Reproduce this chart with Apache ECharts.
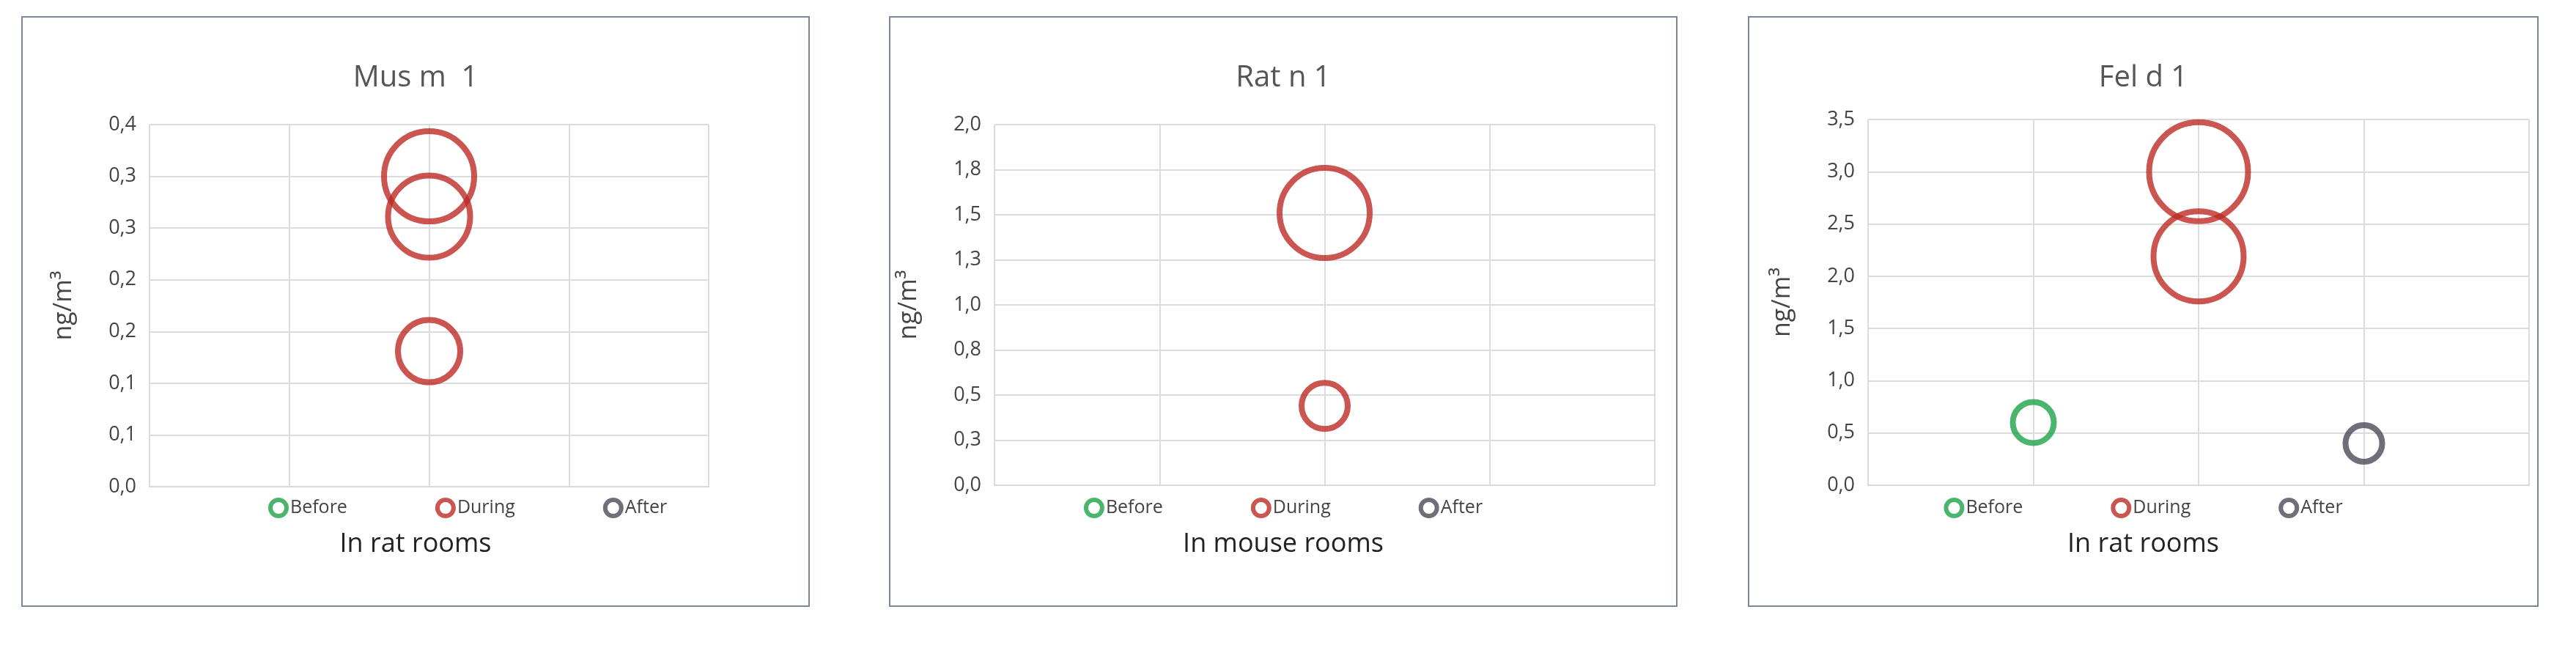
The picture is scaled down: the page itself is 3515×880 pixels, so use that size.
<!DOCTYPE html>
<html>
<head>
<meta charset="utf-8">
<script src="https://cdn.jsdelivr.net/npm/echarts@6/dist/echarts.min.js"></script>
<style>
body { margin: 0; background: #fff; width: 3515px; height: 880px; position: relative; }
.panel { position: absolute; top: 22px; height: 806px; border: 2px solid #7a8798; box-sizing: border-box; background: #fff; }
</style>
</head>
<body>
<div class="panel" id="c1" style="left:29px;width:1076px"></div>
<div class="panel" id="c2" style="left:1213px;width:1076px"></div>
<div class="panel" id="c3" style="left:2385px;width:1079px"></div>
<script>
// 各组类别
var groups = ['Before', 'During', 'After'];
var colors = ['#1ea24a', '#bd2a26', '#4a4b5a'];

// Mus m 1 (大鼠房间)
var musBefore = [];
var musDuring = [0.30, 0.261, 0.131];
var musDuringSize = [123, 112, 85];
var musAfter = [];

// Rat n 1 (小鼠房间)
var ratBefore = [];
var ratDuring = [1.51, 0.44];
var ratDuringSize = [123, 63];
var ratAfter = [];

// Fel d 1 (大鼠房间)
var felBefore = [0.60];
var felBeforeSize = [56];
var felDuring = [3.0, 2.19];
var felDuringSize = [135, 123];
var felAfter = [0.40];
var felAfterSize = [50];

function fmt(v) {
    return (Math.round(v * 10 + 1e-9) / 10).toFixed(1).replace('.', ',');
}

function pts(x, vals, sizes) {
    var out = [];
    for (var i = 0; i < vals.length; i++) out.push([x, vals[i], sizes[i]]);
    return out;
}

function makeChart(id, title, xname, max, interval, grid, legendLeft, seriesData) {
    var myChart = echarts.init(document.getElementById(id));
    var series = [];
    for (var i = 0; i < groups.length; i++) {
        series.push({
            name: groups[i],
            type: 'scatter',
            data: seriesData[i],
            symbol: 'circle',
            symbolSize: function (d) { return d[2]; },
            itemStyle: { color: 'rgba(0,0,0,0)', borderColor: colors[i], borderWidth: 8 }
        });
    }
    option = {
        animation: false,
        title: [{
            text: title, left: 'center', top: 58,
            textStyle: { fontFamily: 'Open Sans', fontWeight: 'normal', fontSize: 40, color: '#555' }
        }, {
            text: xname, left: 'center', top: 696,
            textStyle: { fontFamily: 'Open Sans', fontWeight: 'normal', fontSize: 36, color: '#222' }
        }],
        legend: {
            data: groups.map(function (g, i) {
                return { name: g, icon: 'circle', itemStyle: { color: '#fff', borderColor: colors[i], borderWidth: 6 } };
            }),
            top: 650, left: legendLeft, itemGap: 120, itemWidth: 22, itemHeight: 22,
            textStyle: { fontFamily: 'Open Sans', fontSize: 25, color: '#444' }
        },
        grid: grid,
        xAxis: {
            type: 'value', min: 0, max: 4, interval: 1,
            axisLabel: { show: false }, axisTick: { show: false },
            axisLine: { lineStyle: { color: '#d9d9d9', width: 2 } },
            splitLine: { lineStyle: { color: '#dcdcdc', width: 2 } }
        },
        yAxis: {
            type: 'value', min: 0, max: max, interval: interval,
            name: 'ng/m³', nameLocation: 'middle', nameGap: 100, nameRotate: 90,
            nameTextStyle: { fontFamily: 'Open Sans', fontSize: 34, color: '#444' },
            axisLabel: { formatter: fmt, fontFamily: 'Open Sans', fontSize: 27, color: '#444', margin: 18 },
            axisTick: { show: false }, axisLine: { show: false },
            splitLine: { lineStyle: { color: '#dcdcdc', width: 2 } }
        },
        series: series
    };
    myChart.setOption(option);
}

makeChart('c1', 'Mus m  1', 'In rat rooms', 0.35, 0.05,
    { left: 173, right: 136, top: 146, bottom: 162 }, 330,
    [pts(1, musBefore, []), pts(2, musDuring, musDuringSize), pts(3, musAfter, [])]);
makeChart('c2', 'Rat n 1', 'In mouse rooms', 2.0, 0.25,
    { left: 125, right: 29, top: 146, bottom: 164 }, 'center',
    [pts(1, ratBefore, []), pts(2, ratDuring, ratDuringSize), pts(3, ratAfter, [])]);
makeChart('c3', 'Fel d 1', 'In rat rooms', 3.5, 0.5,
    { left: 162, right: 11, top: 139, bottom: 164 }, 'center',
    [pts(1, felBefore, felBeforeSize), pts(2, felDuring, felDuringSize), pts(3, felAfter, felAfterSize)]);
</script>
</body>
</html>
